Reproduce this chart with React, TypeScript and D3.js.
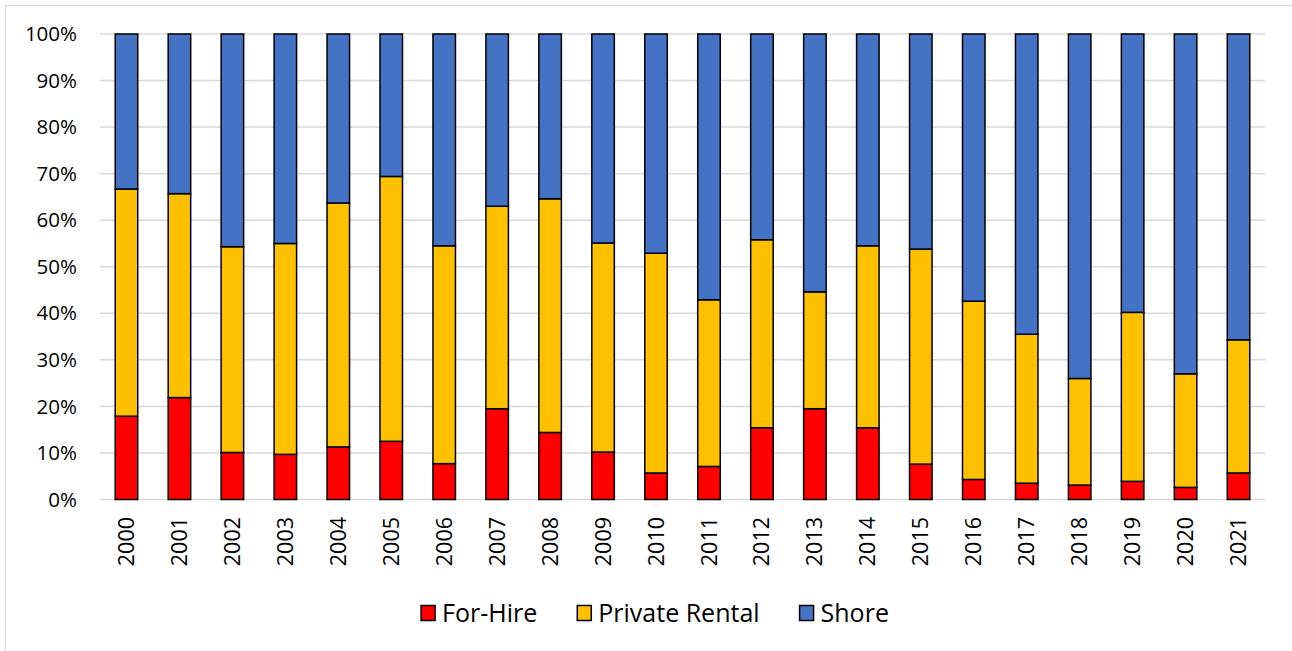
import React, { useMemo } from "react";
import * as d3 from "d3";

const years = ["2000","2001","2002","2003","2004","2005","2006","2007","2008","2009","2010","2011","2012","2013","2014","2015","2016","2017","2018","2019","2020","2021"];
const forHire = [17.9,21.9,10.1,9.7,11.3,12.5,7.7,19.5,14.4,10.2,5.7,7.1,15.4,19.5,15.4,7.6,4.3,3.5,3.1,3.9,2.6,5.7];
const privateRental = [48.8,43.8,44.2,45.3,52.4,56.9,46.8,43.5,50.2,44.9,47.2,35.8,40.4,25.1,39.1,46.2,38.3,32.0,22.9,36.3,24.4,28.6];
const shore = [33.3,34.3,45.7,45.0,36.3,30.6,45.5,37.0,35.4,44.9,47.1,57.1,44.2,55.4,45.5,46.2,57.4,64.5,74.0,59.8,73.0,65.7];
const seriesNames = ["For-Hire", "Private Rental", "Shore"];
const seriesColors = ["#FF0000", "#FFC000", "#4472C4"];
const yTicks = [0,10,20,30,40,50,60,70,80,90,100];

const W = 1292, H = 651;
const FONT = "'Open Sans', sans-serif";

export default function App() {
  const x = d3.scaleBand<string>().domain(years).range([100, 1265]).padding(0);
  const y = d3.scaleLinear().domain([0, 100]).range([499.5, 34]);
  const barW = x.bandwidth() * 0.425;

  const rows = years.map((yr, i) => ({ year: yr, "For-Hire": forHire[i], "Private Rental": privateRental[i], "Shore": shore[i] }));
  const stacked = d3.stack<any>().keys(seriesNames).offset(d3.stackOffsetExpand)(rows);

  const legend = useMemo(() => {
    const canvas = document.createElement("canvas");
    const ctx = canvas.getContext("2d")!;
    ctx.font = "25px 'Open Sans'";
    const sq = 15, gapText = 6, gapItem = 40;
    const widths = seriesNames.map((n) => ctx.measureText(n).width);
    const total = widths.reduce((a, w) => a + sq + gapText + w, 0) + gapItem * (seriesNames.length - 1);
    let cx = 655 - total / 2;
    return seriesNames.map((n, i) => {
      const item = { name: n, color: seriesColors[i], x: cx, tx: cx + sq + gapText };
      cx += sq + gapText + widths[i] + gapItem;
      return item;
    });
  }, []);

  return (
    <svg width={W} height={H} style={{ position: "fixed", left: 0, top: 0, background: "#fff" }} fontFamily={FONT}>
      <rect x={5.5} y={5.5} width={1300} height={700} fill="#fff" stroke="#d9d9d9" strokeWidth={1.2} />
      {yTicks.map((t) => (
        <g key={t}>
          <line x1={100} x2={1265} y1={y(t)} y2={y(t)} stroke="#d9d9d9" strokeWidth={1.5} />
          <text x={77} y={y(t)} dy="0.35em" textAnchor="end" fontSize={20.5} fill="#000">{t}%</text>
        </g>
      ))}
      {stacked.map((s, si) => (
        <g key={s.key} fill={seriesColors[si]}>
          {s.map((d, i) => (
            <rect key={i}
              x={(x(years[i]) as number) + x.bandwidth() / 2 - barW / 2}
              y={y(d[1] * 100)}
              width={barW}
              height={y(d[0] * 100) - y(d[1] * 100)}
              stroke="#000" strokeWidth={1.5} />
          ))}
        </g>
      ))}
      {years.map((yr) => {
        const cx = (x(yr) as number) + x.bandwidth() / 2;
        return (
          <text key={yr} transform={`translate(${cx},517) rotate(-90)`} textAnchor="end" dy="0.35em" fontSize={21.5} fill="#000">{yr}</text>
        );
      })}
      {legend.map((l) => (
        <g key={l.name}>
          <rect x={l.x} y={605.5} width={14} height={15} fill={l.color} stroke="#000" strokeWidth={1.5} />
          <text x={l.tx} y={613} dy="0.35em" fontSize={25} fill="#000">{l.name}</text>
        </g>
      ))}
    </svg>
  );
}
